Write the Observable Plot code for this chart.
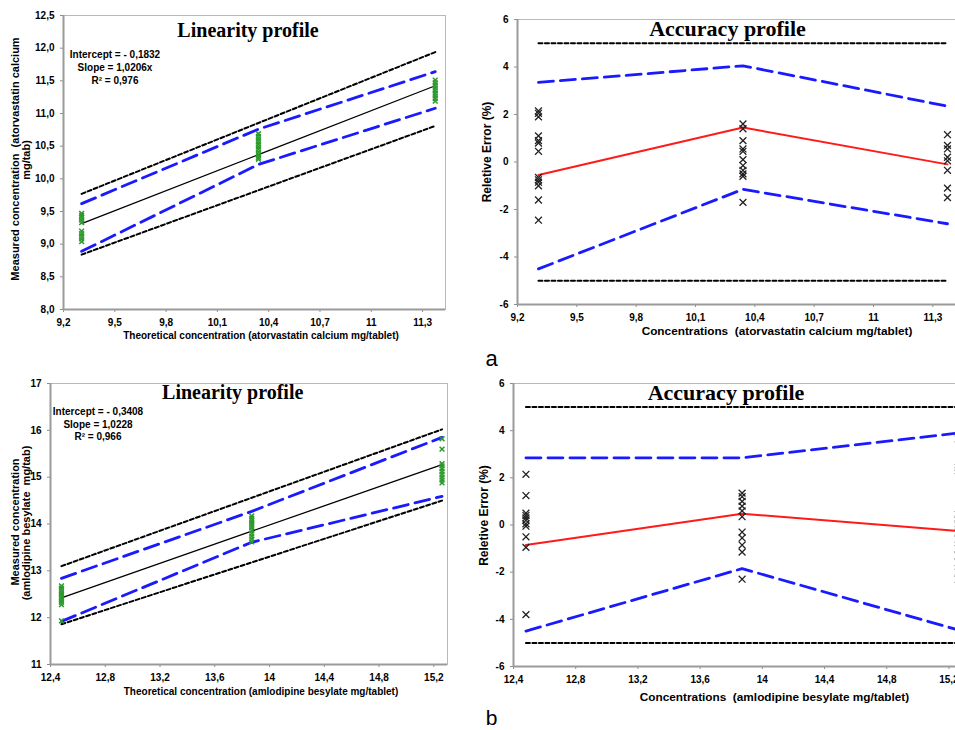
<!DOCTYPE html>
<html><head><meta charset="utf-8">
<script src="https://cdn.jsdelivr.net/npm/d3@7"></script>
<script src="https://cdn.jsdelivr.net/npm/@observablehq/plot@0.6"></script>
<style>
html,body{margin:0;padding:0;background:#fff;overflow:hidden;width:955px;height:730px}
#root{position:relative;width:955px;height:730px;overflow:hidden}
.panel{position:absolute}
.panel svg{overflow:hidden;max-width:none !important}
.panel svg text{fill:#000}
#labels{position:absolute;left:0;top:0;pointer-events:none}
#labels text{white-space:pre}
</style></head><body><div id="root"></div>
<script>
// ---------- Panel a: atorvastatin calcium ----------
const atorLevels = [9.306, 10.34, 11.374];
const atorFit = [9.315, 10.37, 11.425];
const atorLimLevels = [9.306, 11.374];
const atorLimHigh = [9.77, 11.94];
const atorLimLow = [8.84, 10.81];
const atorBlueHigh = [9.62, 10.76, 11.64];
const atorBlueLow = [8.89, 10.22, 11.08];
const atorMeasured1 = [9.47, 9.44, 9.41, 9.37, 9.33, 9.2, 9.16, 9.12, 9.08, 9.04];
const atorMeasured2 = [10.69, 10.65, 10.61, 10.57, 10.53, 10.49, 10.45, 10.41, 10.37, 10.33, 10.3];
const atorMeasured3 = [11.51, 11.47, 11.43, 11.39, 11.35, 11.31, 11.27, 11.23, 11.19];
const atorBias = [-0.55, 1.45, -0.1];
const atorTolHigh = [3.35, 4.05, 2.35];
const atorTolLow = [-4.5, -1.15, -2.6];
const atorErr1 = [2.15, 2.05, 1.9, 1.1, 0.9, 0.8, 0.45, -0.65, -0.75, -0.85, -1.0, -1.6, -2.45];
const atorErr2 = [1.6, 1.4, 0.9, 0.55, 0.45, 0.1, -0.15, -0.35, -0.5, -0.6, -1.7];
const atorErr3 = [1.15, 0.7, 0.55, 0.2, 0.05, -0.35, -1.1, -1.5];
const atorXTicks = [9.2, 9.5, 9.8, 10.1, 10.4, 10.7, 11, 11.3];
const atorLinYTicks = [8, 8.5, 9, 9.5, 10, 10.5, 11, 11.5, 12, 12.5];

// ---------- Panel b: amlodipine besylate ----------
const amloLevels = [12.48, 13.87, 15.26];
const amloFit = [12.424, 13.846, 15.267];
const amloLimLevels = [12.48, 15.26];
const amloLimHigh = [13.10, 16.02];
const amloLimLow = [11.86, 14.50];
const amloBlueHigh = [12.84, 14.27, 15.85];
const amloBlueLow = [11.92, 13.61, 14.59];
const amloMeasured1 = [12.68, 12.63, 12.58, 12.53, 12.48, 12.43, 12.38, 12.33, 12.28, 11.93];
const amloMeasured2 = [14.17, 14.12, 14.07, 14.02, 13.97, 13.92, 13.86, 13.8, 13.74, 13.68, 13.62];
const amloMeasured3 = [15.82, 15.6, 15.29, 15.24, 15.18, 15.12, 15.06, 15.0, 14.94, 14.88];
const amloBias = [-0.85, 0.48, -0.25];
const amloTolHigh = [2.85, 2.85, 3.9];
const amloTolLow = [-4.5, -1.85, -4.45];
const amloErr1 = [2.15, 1.25, 0.5, 0.4, 0.3, 0.2, 0.05, -0.05, -0.5, -0.95, -3.8];
const amloErr2 = [1.35, 1.2, 1.0, 0.8, 0.6, 0.35, -0.3, -0.55, -0.85, -1.15, -2.3];
const amloErr3 = [3.65, 2.45, 2.3, 0.45, 0.25, 0.05, -0.3, -0.6, -1.0, -1.3, -1.6, -2.0, -2.3];
const amloXTicks = [12.4, 12.8, 13.2, 13.6, 14, 14.4, 14.8, 15.2];
const amloLinYTicks = [11, 12, 13, 14, 15, 16, 17];

const accLimits = [-5, 5];
const accYTicks = [-6, -4, -2, 0, 2, 4, 6];

const fmt = d => String(+(+d).toFixed(2)).replace(".", ",");
const fmt1 = d => (+d).toFixed(1).replace(".", ",");

const zip = (xs, ys) => xs.map((x, i) => ({x, y: ys[i]}));
const stack = (levels, groups) => groups.flatMap((g, i) => g.map(y => ({x: levels[i], y})));

const BLUE = "#1a1aff", RED = "#ff1a1a", GREEN = "#2a9a2a";

function basePlot(o, marks) {
  return Plot.plot({
    width: o.width, height: o.height,
    marginLeft: o.ml, marginTop: o.mt, marginRight: o.mr, marginBottom: o.mb,
    style: {fontFamily: "Liberation Sans, Arial, sans-serif", fontSize: "10px", fontWeight: "bold", color: "#8c8c8c", background: "transparent", overflow: "hidden", maxWidth: "none"},
    x: {domain: o.xDomain, ticks: o.xTicks, tickFormat: fmt, tickSize: 3, tickPadding: 6, label: null},
    y: {domain: o.yDomain, ticks: o.yTicks, tickFormat: o.yFmt, tickSize: 3, tickPadding: 6, label: null},
    marks: [
      Plot.frame({stroke: "#b8b8b8"}),
      ...marks,
      Plot.ruleX([o.xDomain[0]], {stroke: "#9a9a9a", strokeWidth: 2}),
      Plot.ruleY([o.yDomain[0]], {stroke: "#9a9a9a", strokeWidth: 2})
    ]
  });
}

function linearity(o, d) {
  return basePlot(o, [
    Plot.line(zip(d.limLevels, d.limHigh), {x: "x", y: "y", stroke: "#000", strokeWidth: 2, strokeDasharray: "4,2.5"}),
    Plot.line(zip(d.limLevels, d.limLow), {x: "x", y: "y", stroke: "#000", strokeWidth: 2, strokeDasharray: "4,2.5"}),
    Plot.line(zip(d.levels, d.blueHigh), {x: "x", y: "y", stroke: BLUE, strokeWidth: 2.8, strokeDasharray: "15,7"}),
    Plot.line(zip(d.levels, d.blueLow), {x: "x", y: "y", stroke: BLUE, strokeWidth: 2.8, strokeDasharray: "15,7"}),
    Plot.line(zip(d.levels, d.fit), {x: "x", y: "y", stroke: "#000", strokeWidth: 1.3}),
    Plot.dot(stack(d.levels, d.measured), {x: "x", y: "y", symbol: "times", r: 2.3, stroke: GREEN, strokeWidth: 1.5})
  ]);
}

function accuracy(o, d) {
  const limLevels = [d.levels[0], d.levels[2]];
  return basePlot(o, [
    Plot.line(zip(limLevels, [accLimits[1], accLimits[1]]), {x: "x", y: "y", stroke: "#000", strokeWidth: 2, strokeDasharray: "4,2.5"}),
    Plot.line(zip(limLevels, [accLimits[0], accLimits[0]]), {x: "x", y: "y", stroke: "#000", strokeWidth: 2, strokeDasharray: "4,2.5"}),
    Plot.line(zip(d.levels, d.tolHigh), {x: "x", y: "y", stroke: BLUE, strokeWidth: 2.8, strokeDasharray: "15,7"}),
    Plot.line(zip(d.levels, d.tolLow), {x: "x", y: "y", stroke: BLUE, strokeWidth: 2.8, strokeDasharray: "15,7"}),
    Plot.line(zip(d.levels, d.bias), {x: "x", y: "y", stroke: RED, strokeWidth: 2}),
    Plot.dot(stack(d.levels, d.errs), {x: "x", y: "y", symbol: "times", r: 3.2, stroke: "#222", strokeWidth: 1.3})
  ]);
}

const root = document.getElementById("root");
function place(svg, left, top, w, h) {
  const div = document.createElement("div");
  div.className = "panel";
  div.style.left = left + "px";
  div.style.top = top + "px";
  div.style.width = w + "px";
  div.style.height = h + "px";
  svg.style.maxWidth = "none";
  svg.setAttribute("width", w);
  svg.setAttribute("height", h);
  div.appendChild(svg);
  root.appendChild(div);
}

place(linearity(
  {width: 470, height: 350, ml: 63, mt: 15, mr: 25, mb: 41, xDomain: [9.2, 11.434], xTicks: atorXTicks, yDomain: [8, 12.5], yTicks: atorLinYTicks, yFmt: fmt1},
  {levels: atorLevels, fit: atorFit, limLevels: atorLimLevels, limHigh: atorLimHigh, limLow: atorLimLow, blueHigh: atorBlueHigh, blueLow: atorBlueLow, measured: [atorMeasured1, atorMeasured2, atorMeasured3]}
), 0, 0, 470, 350);

place(accuracy(
  {width: 500, height: 350, ml: 47, mt: 19, mr: 8, mb: 46, xDomain: [9.2, 11.45], xTicks: atorXTicks, yDomain: [-6, 6], yTicks: accYTicks, yFmt: fmt},
  {levels: atorLevels, bias: atorBias, tolHigh: atorTolHigh, tolLow: atorTolLow, errs: [atorErr1, atorErr2, atorErr3]}
), 470, 0, 500, 350);

place(linearity(
  {width: 470, height: 360, ml: 50, mt: 13, mr: 23, mb: 66, xDomain: [12.4, 15.3], xTicks: amloXTicks, yDomain: [11, 17], yTicks: amloLinYTicks, yFmt: fmt},
  {levels: amloLevels, fit: amloFit, limLevels: amloLimLevels, limHigh: amloLimHigh, limLow: amloLimLow, blueHigh: amloBlueHigh, blueLow: amloBlueLow, measured: [amloMeasured1, amloMeasured2, amloMeasured3]}
), 0, 370, 470, 360);

place(accuracy(
  {width: 500, height: 360, ml: 43, mt: 13, mr: 6, mb: 64, xDomain: [12.4, 15.3], xTicks: amloXTicks, yDomain: [-6, 6], yTicks: accYTicks, yFmt: fmt},
  {levels: amloLevels, bias: amloBias, tolHigh: amloTolHigh, tolLow: amloTolLow, errs: [amloErr1, amloErr2, amloErr3]}
), 470, 370, 500, 360);

// ---------- text overlay ----------
const svg = d3.select(root).append("svg").attr("id", "labels").attr("width", 955).attr("height", 730);
const SANS = "Liberation Sans, Arial, sans-serif", SERIF = "Liberation Serif, Times New Roman, serif";
function txt(x, y, s, size, opts = {}) {
  const t = svg.append("text")
    .attr("text-anchor", "middle")
    .attr("font-family", opts.serif ? SERIF : SANS)
    .attr("font-weight", opts.normal ? "normal" : "bold")
    .attr("font-size", size)
    .attr("fill", "#000")
    .attr("transform", `translate(${x},${y})` + (opts.rot ? " rotate(-90)" : ""));
  t.text(s);
  return t;
}
// titles
txt(248, 37, "Linearity profile", 20, {serif: true});
txt(727.5, 36, "Accuracy profile", 22, {serif: true});
txt(232.7, 399, "Linearity profile", 20, {serif: true});
txt(726, 400, "Accuracy profile", 22, {serif: true});
// regression annotations
txt(115, 57.5, "Intercept = - 0,1832", 10);
txt(115, 70.5, "Slope = 1,0206x", 10);
txt(115, 83.5, "R² = 0,976", 10);
txt(98, 415, "Intercept = - 0,3408", 10);
txt(98, 427.5, "Slope = 1,0228", 10);
txt(98, 440, "R² = 0,966", 10);
// x-axis labels
txt(261, 339, "Theoretical concentration (atorvastatin calcium mg/tablet)", 10);
txt(777, 335, "Concentrations  (atorvastatin calcium mg/tablet)", 11.8);
txt(261, 695, "Theoretical concentration (amlodipine besylate mg/tablet)", 10);
txt(774.5, 700.5, "Concentrations  (amlodipine besylate mg/tablet)", 11.8);
// y-axis labels
txt(19, 159, "Measured concentration  (atorvastatin calcium", 11, {rot: true});
txt(30, 160, "mg/tab)", 11, {rot: true});
txt(18.5, 522, "Measured concentration", 11, {rot: true});
txt(29.5, 523, "(amlodipine besylate  mg/tab)", 11, {rot: true});
txt(491, 152, "Reletive Error (%)", 12, {rot: true});
txt(488, 515.5, "Reletive Error (%)", 12, {rot: true});
// panel letters
txt(491.7, 366, "a", 22, {normal: true});
txt(491.7, 725, "b", 21, {normal: true});
</script></body></html>
